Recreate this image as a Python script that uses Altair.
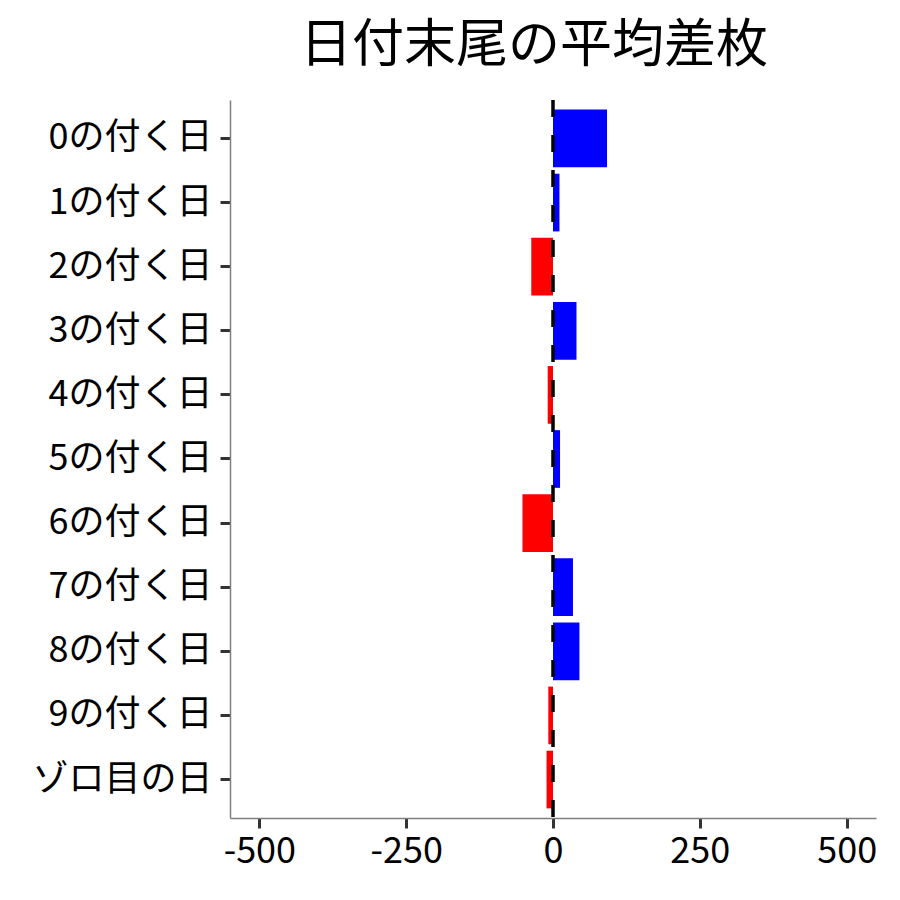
import altair as alt
import pandas as pd

categories = ["0の付く日", "1の付く日", "2の付く日", "3の付く日", "4の付く日",
              "5の付く日", "6の付く日", "7の付く日", "8の付く日", "9の付く日", "ゾロ目の日"]
values = [92, 11, -37, 40, -9, 12, -52, 34, 45, -8, -11]
x_ticks = [-500, -250, 0, 250, 500]

df = pd.DataFrame({"day": categories, "diff": values})
df["sign"] = ["plus" if v >= 0 else "minus" for v in values]

W, H = 646, 718
FONT = "Noto Sans CJK JP"

bars = alt.Chart(df).mark_bar().encode(
    y=alt.Y("day:N", sort=categories,
            scale=alt.Scale(paddingInner=0.1, paddingOuter=0.15),
            axis=alt.Axis(title=None, labelFontSize=36, labelColor="black", labelFont=FONT,
                          tickSize=10, tickWidth=3, tickColor="#333333", labelLimit=400,
                          domainColor="#7f7f7f", domainWidth=1.5, labelPadding=8,
                          grid=False)),
    x=alt.X("diff:Q", scale=alt.Scale(domain=[-550, 550], nice=False, zero=False),
            axis=alt.Axis(title=None, values=x_ticks, labelFontSize=36, labelColor="black",
                          labelFont=FONT, tickSize=10, tickWidth=3, tickColor="#333333",
                          domainColor="#7f7f7f", domainWidth=1.5, labelPadding=6,
                          labelExpr="datum.value < 0 ? '-' + abs(datum.value) : '' + datum.value",
                          grid=False)),
    color=alt.Color("sign:N", scale=alt.Scale(domain=["plus", "minus"], range=["#0000ff", "#ff0000"]),
                    legend=None),
)

zero_df = pd.DataFrame({"zero": [0]})
rule = alt.Chart(zero_df).mark_rule(color="black", strokeWidth=3.5, strokeDash=[17, 18]).encode(
    x="zero:Q",
    y=alt.value(0),
    y2=alt.value(H),
)

chart = alt.layer(bars, rule).properties(
    width=W, height=H,
    background="white",
    title=alt.TitleParams("日付末尾の平均差枚", fontSize=52, font=FONT, fontWeight="normal",
                          color="black", anchor="middle", dx=-19, offset=25),
    autosize=alt.AutoSizeParams(type="none"),
    padding={"left": 222, "top": 92, "right": 10, "bottom": 60},
).configure_view(strokeWidth=0, stroke=None)

chart.save("out.html", embed_options={"renderer": "svg", "actions": False})
